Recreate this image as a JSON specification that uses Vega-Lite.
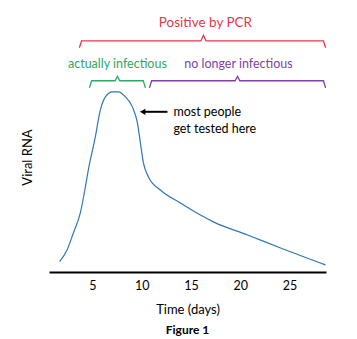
{
  "$schema": "https://vega.github.io/schema/vega-lite/v6.json",
  "autosize": {"type": "none"},
  "width": 277,
  "height": 257,
  "padding": {"left": 49, "top": 15, "right": 31, "bottom": 67},
  "background": "white",
  "config": {"view": {"stroke": null}, "font": "Lato"},
  "title": {"text": "Figure 1", "orient": "bottom", "fontSize": 12, "fontWeight": "bold", "font": "Lato", "color": "black", "offset": 8},
  "datasets": {
    "curve": [
      {"t": 1.68, "v": 4.8}, {"t": 2.43, "v": 10.3}, {"t": 3.07, "v": 18.2}, {"t": 3.78, "v": 27.6},
      {"t": 4.29, "v": 39.7}, {"t": 4.59, "v": 47.7}, {"t": 5.3, "v": 63.1}, {"t": 5.81, "v": 75.7},
      {"t": 6.32, "v": 81.8}, {"t": 7.03, "v": 84.1}, {"t": 7.64, "v": 84.1}, {"t": 8.35, "v": 81.8},
      {"t": 9.06, "v": 77.1}, {"t": 9.57, "v": 69.6}, {"t": 9.87, "v": 60.3}, {"t": 10.18, "v": 50.9},
      {"t": 10.69, "v": 44.4}, {"t": 11.9, "v": 38.3}, {"t": 13.93, "v": 32.2}, {"t": 15.96, "v": 26.6},
      {"t": 17.28, "v": 23.4}, {"t": 20.74, "v": 17.3}, {"t": 24.09, "v": 11.2}, {"t": 28.65, "v": 3.3}
    ],
    "brackets": [
      {"b": "pcr", "k": 1, "t": 3.68, "v": 104.7}, {"b": "pcr", "k": 2, "t": 3.9, "v": 107.9},
      {"b": "pcr", "k": 3, "t": 16.0, "v": 107.9}, {"b": "pcr", "k": 4, "t": 16.27, "v": 110.5},
      {"b": "pcr", "k": 5, "t": 16.54, "v": 107.9}, {"b": "pcr", "k": 6, "t": 28.44, "v": 107.9},
      {"b": "pcr", "k": 7, "t": 28.66, "v": 104.7},
      {"b": "inf", "k": 1, "t": 4.7, "v": 86.0}, {"b": "inf", "k": 2, "t": 4.92, "v": 89.3},
      {"b": "inf", "k": 3, "t": 7.3, "v": 89.3}, {"b": "inf", "k": 4, "t": 7.54, "v": 91.3},
      {"b": "inf", "k": 5, "t": 7.78, "v": 89.3}, {"b": "inf", "k": 6, "t": 10.16, "v": 89.3},
      {"b": "inf", "k": 7, "t": 10.38, "v": 86.0},
      {"b": "non", "k": 1, "t": 10.79, "v": 86.0}, {"b": "non", "k": 2, "t": 11.01, "v": 89.3},
      {"b": "non", "k": 3, "t": 19.48, "v": 89.3}, {"b": "non", "k": 4, "t": 19.72, "v": 91.3},
      {"b": "non", "k": 5, "t": 19.96, "v": 89.3}, {"b": "non", "k": 6, "t": 28.44, "v": 89.3},
      {"b": "non", "k": 7, "t": 28.66, "v": 86.0}
    ],
    "labels": [
      {"b": "inf", "t": 7.54, "v": 97.2, "text": "actually infectious"},
      {"b": "non", "t": 19.82, "v": 97.2, "text": "no longer infectious"}
    ],
    "toplabel": [
      {"b": "pcr", "t": 16.47, "v": 116.4, "text": "Positive by PCR"}
    ],
    "note": [
      {"t": 13.22, "v": 74.8, "text": "most people"},
      {"t": 13.22, "v": 66.8, "text": "get tested here"}
    ],
    "arrow": [
      {"t": 12.62, "t2": 10.3, "v": 74.8, "tip": 10.1}
    ]
  },
  "layer": [
    {
      "data": {"name": "curve"},
      "mark": {"type": "line", "interpolate": "monotone", "color": "#2f78b4", "strokeWidth": 1.2},
      "encoding": {
        "x": {"field": "t", "type": "quantitative", "scale": {"domain": [0.6, 28.7], "nice": false, "zero": false},
          "axis": {"values": [5, 10, 15, 20, 25], "title": "Time (days)", "grid": false, "ticks": false, "tickSize": 0,
            "domainColor": "black", "domainWidth": 2, "labelFontSize": 12.5, "labelColor": "black", "labelPadding": 7,
            "labelFont": "Lato", "titleFont": "Lato", "titleFontSize": 13, "titleFontWeight": "normal", "titleColor": "black", "titlePadding": 12}},
        "y": {"field": "v", "type": "quantitative", "scale": {"domain": [0, 120], "nice": false},
          "axis": {"title": "Viral RNA", "domain": false, "ticks": false, "labels": false, "grid": false,
            "titleFont": "Lato", "titleFontSize": 13, "titleFontWeight": "normal", "titleColor": "black", "titleY": 142, "titlePadding": 15}}
      }
    },
    {
      "mark": {"type": "rule", "color": "black", "strokeWidth": 2},
      "encoding": {"x": {"datum": 0.6, "type": "quantitative"}, "y": {"datum": 0, "type": "quantitative"}, "y2": {"datum": 100}}
    },
    {
      "data": {"name": "brackets"},
      "mark": {"type": "line", "strokeWidth": 1.3},
      "encoding": {
        "x": {"field": "t", "type": "quantitative"},
        "y": {"field": "v", "type": "quantitative"},
        "detail": {"field": "b"},
        "order": {"field": "k"},
        "color": {"field": "b", "type": "nominal", "scale": {"domain": ["pcr", "inf", "non"], "range": ["#e23a4a", "#2fa863", "#7e3fa8"]}, "legend": null}
      }
    },
    {
      "data": {"name": "labels"},
      "mark": {"type": "text", "fontSize": 12.5, "font": "Lato", "align": "center", "baseline": "middle"},
      "encoding": {
        "x": {"field": "t", "type": "quantitative"},
        "y": {"field": "v", "type": "quantitative"},
        "text": {"field": "text"},
        "color": {"field": "b", "type": "nominal", "scale": {"domain": ["pcr", "inf", "non"], "range": ["#e23a4a", "#2fa863", "#7e3fa8"]}, "legend": null}
      }
    },
    {
      "data": {"name": "toplabel"},
      "mark": {"type": "text", "fontSize": 13.5, "font": "Lato", "align": "center", "baseline": "middle"},
      "encoding": {
        "x": {"field": "t", "type": "quantitative"},
        "y": {"field": "v", "type": "quantitative"},
        "text": {"field": "text"},
        "color": {"field": "b", "type": "nominal", "scale": {"domain": ["pcr", "inf", "non"], "range": ["#e23a4a", "#2fa863", "#7e3fa8"]}, "legend": null}
      }
    },
    {
      "data": {"name": "note"},
      "mark": {"type": "text", "fontSize": 12.5, "font": "Lato", "align": "left", "baseline": "middle", "color": "black"},
      "encoding": {
        "x": {"field": "t", "type": "quantitative"},
        "y": {"field": "v", "type": "quantitative"},
        "text": {"field": "text"}
      }
    },
    {
      "data": {"name": "arrow"},
      "mark": {"type": "rule", "color": "black", "strokeWidth": 2},
      "encoding": {
        "x": {"field": "t", "type": "quantitative"},
        "x2": {"field": "t2"},
        "y": {"field": "v", "type": "quantitative"}
      }
    },
    {
      "data": {"name": "arrow"},
      "mark": {"type": "point", "shape": "triangle-left", "filled": true, "color": "black", "size": 40, "opacity": 1},
      "encoding": {
        "x": {"field": "tip", "type": "quantitative"},
        "y": {"field": "v", "type": "quantitative"}
      }
    }
  ]
}
